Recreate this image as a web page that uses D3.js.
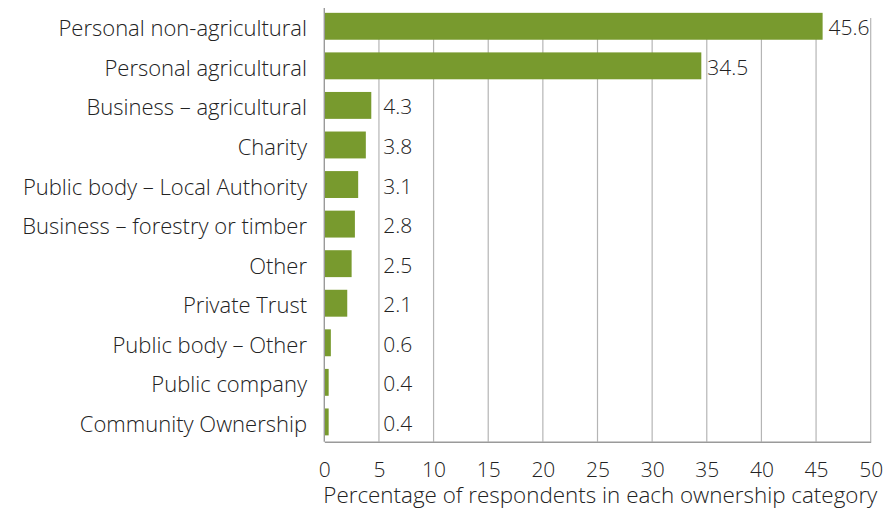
<!DOCTYPE html>
<html>
<head>
<meta charset="utf-8">
<script src="https://cdn.jsdelivr.net/npm/d3@7"></script>
<style>
  html, body { margin: 0; padding: 0; background: #fff; }
  svg text { font-family: "Open Sans", "Noto Sans", sans-serif; font-weight: 300; fill: #222; }
</style>
</head>
<body>
<svg id="chart" width="886" height="508"></svg>
<script>
// Ownership categories and share of respondents (%)
const categories = [
  "Personal non-agricultural",
  "Personal agricultural",
  "Business \u2013 agricultural",
  "Charity",
  "Public body \u2013 Local Authority",
  "Business \u2013 forestry or timber",
  "Other",
  "Private Trust",
  "Public body \u2013 Other",
  "Public company",
  "Community Ownership"
];
const values = [45.6, 34.5, 4.3, 3.8, 3.1, 2.8, 2.5, 2.1, 0.6, 0.4, 0.4];
const xTicks = [0, 5, 10, 15, 20, 25, 30, 35, 40, 45, 50];
const axisTitle = "Percentage of respondents in each ownership category";

const svg = d3.select("#chart");
const plotLeft = 324.3, plotRight = 870.7, plotTop = 6.5, plotBottom = 441.7;

const x = d3.scaleLinear().domain([0, 50]).range([plotLeft, plotRight]);
const y = d3.scaleBand().domain(categories).range([plotTop, plotBottom])
  .paddingInner(0.32).paddingOuter(0.16);
const mid = c => y(c) + y.bandwidth() / 2;

// vertical gridlines
svg.append("g").selectAll("line").data(xTicks.filter(t => t > 0)).join("line")
  .attr("x1", d => x(d)).attr("x2", d => x(d))
  .attr("y1", 18).attr("y2", plotBottom)
  .attr("stroke", "#b5b5b5").attr("stroke-width", 1.2);

// bars
svg.append("g").selectAll("rect").data(values).join("rect")
  .attr("x", x(0))
  .attr("y", (d, i) => y(categories[i]))
  .attr("width", d => x(d) - x(0))
  .attr("height", y.bandwidth())
  .attr("fill", "#789a2e");

// bottom axis
const axis = d3.axisBottom(x).tickValues(xTicks).tickSize(0).tickPadding(0);
const gAxis = svg.append("g").attr("transform", `translate(0,${plotBottom})`).call(axis);
gAxis.select(".domain").attr("stroke", "#9a9a9a").attr("stroke-width", 1.4);
gAxis.selectAll("text")
  .attr("y", 35.6).attr("dy", null)
  .attr("font-size", 21).attr("fill", "#222")
  .attr("font-family", "'Open Sans', sans-serif").attr("font-weight", 300);

// left axis line
svg.append("line")
  .attr("x1", x(0)).attr("x2", x(0)).attr("y1", 8).attr("y2", plotBottom)
  .attr("stroke", "#9a9a9a").attr("stroke-width", 1.4);

// category labels
svg.append("g").selectAll("text").data(categories).join("text")
  .attr("x", 307)
  .attr("y", d => mid(d) + 10)
  .attr("text-anchor", "end")
  .attr("font-size", 22)
  .text(d => d);

// value labels
svg.append("g").selectAll("text").data(values).join("text")
  .attr("x", d => Math.max(x(d), x(4.85)) + 6)
  .attr("y", (d, i) => mid(categories[i]) + 9)
  .attr("font-size", 21)
  .text(d => d.toFixed(1));

// axis title
svg.append("text")
  .attr("x", plotLeft - 1)
  .attr("y", 503)
  .attr("font-size", 22.4)
  .text(axisTitle);
</script>
</body>
</html>
